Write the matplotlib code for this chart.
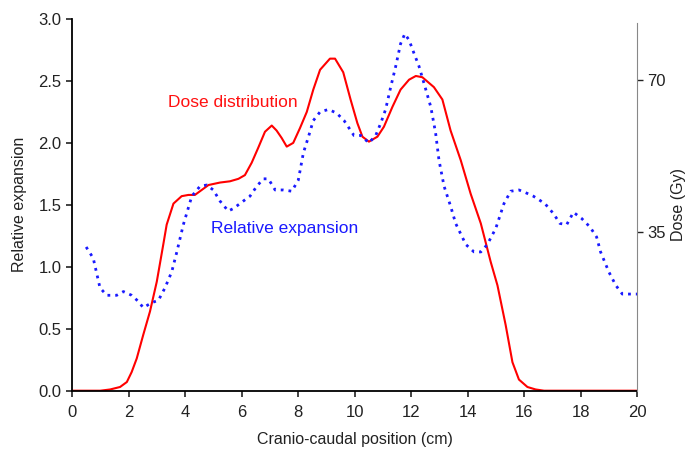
import matplotlib
matplotlib.use('Agg')
import matplotlib.pyplot as plt

plt.rcParams['font.family'] = ['Liberation Sans', 'DejaVu Sans']

# relative expansion (blue dotted), cm vs ratio
exp_x = [0.50, 0.75, 0.99, 1.23, 1.58, 1.82, 2.11, 2.35, 2.52, 2.82, 3.06, 3.29, 3.53, 3.71,
         3.94, 4.24, 4.53, 4.77, 5.00, 5.24, 5.53, 5.71, 6.06, 6.30, 6.54, 6.77, 6.95, 7.19,
         7.48, 7.78, 8.01, 8.19, 8.37, 8.54, 8.78, 9.08, 9.37, 9.63, 9.98, 10.22, 10.51, 10.75,
         10.93, 11.10, 11.28, 11.46, 11.63, 11.78, 11.93, 12.11, 12.28, 12.46, 12.70, 12.87,
         12.99, 13.17, 13.40, 13.58, 13.94, 14.23, 14.47, 14.70, 15.00, 15.29, 15.53, 15.82,
         16.04, 16.33, 16.74, 17.04, 17.27, 17.51, 17.75, 18.04, 18.34, 18.57, 18.71, 19.00,
         19.25, 19.48, 20.00]
exp_y = [1.16, 1.07, 0.83, 0.77, 0.77, 0.80, 0.77, 0.72, 0.67, 0.71, 0.73, 0.83, 0.96, 1.12,
         1.34, 1.57, 1.65, 1.66, 1.62, 1.53, 1.45, 1.47, 1.53, 1.57, 1.65, 1.71, 1.71, 1.62,
         1.62, 1.61, 1.70, 1.92, 2.05, 2.18, 2.25, 2.27, 2.24, 2.18, 2.06, 2.06, 2.00, 2.06,
         2.16, 2.27, 2.45, 2.62, 2.80, 2.88, 2.83, 2.72, 2.62, 2.48, 2.29, 2.08,
         1.86, 1.65, 1.49, 1.35, 1.18, 1.12, 1.12, 1.18, 1.31, 1.51, 1.61, 1.62,
         1.60, 1.57, 1.51, 1.43, 1.35, 1.34, 1.44, 1.39, 1.32, 1.24, 1.12, 0.96,
         0.85, 0.78, 0.78]

# dose distribution (red), drawn on the relative scale
dose_x = [0.0, 1.00, 1.35, 1.70, 1.94, 2.11, 2.29, 2.52, 2.76, 3.00, 3.23, 3.35, 3.59, 3.88,
          4.12, 4.35, 4.53, 4.83, 5.24, 5.59, 5.89, 6.12, 6.36, 6.59, 6.83, 7.07, 7.24, 7.42,
          7.60, 7.83, 8.07, 8.31, 8.54, 8.78, 9.13, 9.31, 9.60, 9.86, 10.10, 10.28, 10.51,
          10.81, 11.04, 11.34, 11.63, 11.93, 12.17, 12.40, 12.81, 13.11, 13.40, 13.76, 14.11,
          14.47, 14.82, 15.06, 15.35, 15.59, 15.82, 16.12, 16.41, 16.71, 20.0]
dose_y = [0.0, 0.0, 0.01, 0.03, 0.07, 0.15, 0.26, 0.45, 0.64, 0.88, 1.18, 1.34, 1.51, 1.57,
          1.58, 1.58, 1.61, 1.66, 1.68, 1.69, 1.71, 1.74, 1.84, 1.96, 2.09, 2.14, 2.10, 2.04,
          1.97, 2.00, 2.12, 2.25, 2.43, 2.59, 2.68, 2.68, 2.57, 2.35, 2.16, 2.05, 2.01,
          2.05, 2.13, 2.29, 2.43, 2.51, 2.54, 2.53, 2.45, 2.35, 2.10, 1.86, 1.59,
          1.35, 1.04, 0.85, 0.53, 0.23, 0.09, 0.03, 0.01, 0.0, 0.0]

x_ticks = list(range(0, 21, 2))
y_ticks = [0.0, 0.5, 1.0, 1.5, 2.0, 2.5, 3.0]
gy_ticks = [35, 70]

fig = plt.figure(figsize=(6.88, 4.51), dpi=100)
ax = fig.add_axes([0.1047, 0.1337, 0.8212, 0.8242])

ax.plot(dose_x, dose_y, color='#ff0000', lw=1.5)
ax.plot(exp_x, exp_y, color='#1a1aff', lw=2.0, linestyle=(0, (1.0, 1.8)))

ax.set_xlim(0, 20)
ax.set_ylim(0, 3.0)
ax.set_xticks(x_ticks)
ax.set_yticks(y_ticks)
ax.set_yticklabels([f'{v:.1f}' for v in y_ticks])
ax.tick_params(labelsize=12, length=4, width=1.2, direction='out', colors='#222222')
ax.tick_params(axis='x', pad=6)
ax.spines['top'].set_visible(False)
ax.spines['right'].set_visible(False)
ax.spines['left'].set_linewidth(1.3)
ax.spines['bottom'].set_linewidth(1.3)
ax.set_xlabel('Cranio-caudal position (cm)', fontsize=11.5, labelpad=9, color='#222222')
ax.set_ylabel('Relative expansion', fontsize=11.5, labelpad=8, color='#222222')

ax.text(5.70, 2.33, 'Dose distribution', color='#ff1010', fontsize=12.5, ha='center', va='center')
ax.text(7.54, 1.31, 'Relative expansion', color='#1a1aff', fontsize=12.5, ha='center', va='center')

ax2 = ax.twinx()
ax2.set_ylim(-1.5, 84)
ax2.set_yticks(gy_ticks)
ax2.tick_params(labelsize=12, length=4, width=1.0, direction='out', colors='#222222')
ax2.spines['right'].set_color('#888888')
ax2.spines['right'].set_bounds(-1.5, 83)
for s in ['top', 'left', 'bottom']:
    ax2.spines[s].set_visible(False)
ax2.set_ylabel('Dose (Gy)', fontsize=11.5, labelpad=4, color='#222222')

fig.savefig('out.png', dpi=100, facecolor='white')
